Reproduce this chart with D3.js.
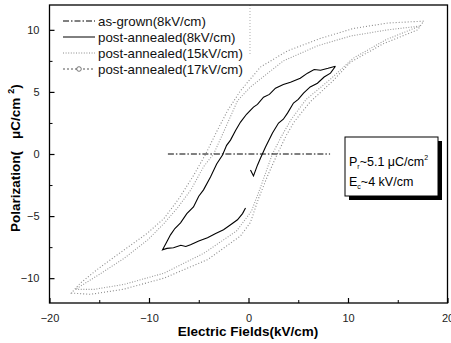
<!DOCTYPE html>
<html>
<head>
<meta charset="utf-8">
<script src="https://cdn.jsdelivr.net/npm/d3@7"></script>
<style>
  body { margin: 0; background: #fff; }
  text { font-family: "Liberation Sans", Arial, sans-serif; }
</style>
</head>
<body>
<div id="chart"></div>
<script>
const W = 451, H = 343;

// tick values
const xTicks = [-20, -10, 0, 10, 20];
const xMinor = [-15, -5, 5, 15];
const yTicks = [-10, -5, 0, 5, 10];
const yMinor = [-7.5, -2.5, 2.5, 7.5];

// series, [E (kV/cm), P (uC/cm2)]
const asGrown = [[-8.1, 0], [-4, 0], [0, 0], [4, 0], [8.2, 0]];

const post8 = [
  [8.74, 7.07], [8.0, 6.9], [7.24, 6.75], [6.6, 6.8], [5.93, 6.51], [5.2, 6.1], [4.22, 5.78], [3.5, 5.6],
  [2.71, 5.3], [2.1, 4.8], [1.51, 4.58], [0.9, 4.0], [0.5, 3.78], [-0.2, 3.2], [-0.8, 2.57], [-1.3, 1.9],
  [-1.81, 1.12], [-2.2, 0.7], [-2.61, -0.08], [-3.2, -0.8], [-3.82, -1.85], [-4.52, -2.89], [-5.0, -3.4],
  [-5.53, -4.26], [-6.2, -4.8], [-6.83, -5.54], [-7.4, -6.0], [-7.84, -6.51], [-8.3, -7.2], [-8.64, -7.71],
  [-8.2, -7.6], [-7.54, -7.55], [-6.8, -7.35], [-6.3, -7.45], [-5.83, -7.31], [-5.0, -7.0], [-4.12, -6.75],
  [-3.3, -6.4], [-2.51, -6.1], [-1.8, -5.7], [-1.11, -5.3], [-0.6, -4.8], [-0.3, -4.34],
  null,
  [0.2, -1.28], [0.5, -1.77], [0.9, -0.9], [1.21, -0.32], [1.71, 0.56], [2.41, 1.69], [3.02, 2.49],
  [3.5, 2.8], [3.92, 3.29], [4.52, 4.1], [5.0, 4.4], [5.53, 4.9], [6.2, 5.4], [6.93, 5.7], [7.6, 6.2],
  [8.24, 6.51], [8.74, 7.07]
];

const post15 = [
  [17.2, 10.3], [14, 10.0], [10.25, 9.5], [6.9, 8.7], [3.5, 7.5], [0.2, 5.4], [-1.1, 4.3], [-2.1, 2.5],
  [-3.5, 0], [-4.5, -1.0], [-5.8, -2.9], [-7.1, -4.3], [-8.5, -5.6], [-10.1, -6.9], [-12.5, -8.4],
  [-15, -9.7], [-17.4, -10.9],
  [-15.5, -10.9], [-12.5, -10.5], [-8.5, -9.6], [-4.5, -8.0], [-1.2, -6.2], [0.3, -4.6], [1.2, -2.7],
  [2.4, 0], [3.3, 1.4], [4.3, 2.8], [5.8, 4.4], [8.2, 6.0], [10.5, 7.7], [13.8, 9.2], [17.2, 10.3]
];

const post17 = [
  [17.6, 10.7], [14, 10.55], [10.5, 10.1], [7.2, 9.3], [3.9, 8.3], [1.2, 7.0], [-0.8, 5.1], [-2.1, 3.5],
  [-3.2, 1.8], [-4.3, 0], [-5.5, -1.7], [-7, -3.6], [-8.5, -5.2], [-10.2, -6.4], [-12.9, -7.95],
  [-15.2, -9.3], [-16.9, -10.4], [-17.8, -11.2],
  [-15.9, -11.3], [-12.6, -10.9], [-8.5, -10.0], [-4.1, -8.5], [-0.8, -6.6], [0.2, -5.5], [1.0, -3.6],
  [2.0, -1.6], [2.9, 0], [3.8, 1.5], [4.6, 2.6], [6.2, 4.2], [8.5, 5.9], [10.25, 7.4], [13.6, 8.9],
  [17.0, 10.0], [17.6, 10.7]
];

const legendLabels = ["as-grown(8kV/cm)", "post-annealed(8kV/cm)", "post-annealed(15kV/cm)", "post-annealed(17kV/cm)"];

const svg = d3.select("#chart").append("svg").attr("width", W).attr("height", H);

const x = d3.scaleLinear().domain([-20, 20]).range([49.5, 447.5]);
const y = d3.scaleLinear().domain([-12, 12]).range([303, 5]);

const line = d3.line()
  .defined(d => d !== null)
  .x(d => x(d[0]))
  .y(d => y(d[1]));

// faint dotted vertical at E=0 near top
svg.append("line")
  .attr("x1", x(0.15)).attr("x2", x(0.15)).attr("y1", y(12)).attr("y2", y(8))
  .attr("stroke", "#999").attr("stroke-width", 0.8).attr("stroke-dasharray", "1,2");

// loops
svg.append("path").datum(post17).attr("d", line)
  .attr("fill", "none").attr("stroke", "#8a8a8a").attr("stroke-width", 1.1)
  .attr("stroke-dasharray", "1,2");
svg.append("path").datum(post15).attr("d", line)
  .attr("fill", "none").attr("stroke", "#9a9a9a").attr("stroke-width", 1.1)
  .attr("stroke-dasharray", "1,1.6");
svg.append("path").datum(post8).attr("d", line)
  .attr("fill", "none").attr("stroke", "#000").attr("stroke-width", 1.1);
svg.append("path").datum(asGrown).attr("d", line)
  .attr("fill", "none").attr("stroke", "#000").attr("stroke-width", 1)
  .attr("stroke-dasharray", "6,2,1.5,2");

// frame
svg.append("rect")
  .attr("x", x(-20)).attr("y", y(12))
  .attr("width", x(20) - x(-20)).attr("height", y(-12) - y(12))
  .attr("fill", "none").attr("stroke", "#000").attr("stroke-width", 1.3);

// axes (ticks inward)
const xAxis = d3.axisBottom(x).tickValues(xTicks).tickSizeInner(-5).tickSizeOuter(0).tickPadding(11).tickFormat(d3.format("d"));
const gx = svg.append("g").attr("transform", `translate(0,${y(-12)})`).call(xAxis);
gx.select(".domain").remove();
gx.selectAll(".tick line").attr("stroke-width", 1.2);
gx.selectAll("text").attr("font-size", 11).attr("fill", "#222");
svg.append("g").attr("transform", `translate(0,${y(-12)})`)
  .call(d3.axisBottom(x).tickValues(xMinor).tickSize(-3).tickFormat(""))
  .select(".domain").remove();

const yAxis = d3.axisLeft(y).tickValues(yTicks).tickSizeInner(-5).tickSizeOuter(0).tickPadding(10).tickFormat(d3.format("d"));
const gy = svg.append("g").attr("transform", `translate(${x(-20)},0)`).call(yAxis);
gy.select(".domain").remove();
gy.selectAll(".tick line").attr("stroke-width", 1.2);
gy.selectAll("text").attr("font-size", 11).attr("fill", "#222");
svg.append("g").attr("transform", `translate(0,0)`)
  .attr("transform", `translate(${x(-20)},0)`)
  .call(d3.axisLeft(y).tickValues(yMinor).tickSize(-3).tickFormat(""))
  .select(".domain").remove();

// axis titles
svg.append("text")
  .attr("x", 248).attr("y", 336).attr("text-anchor", "middle")
  .attr("font-size", 13.5).attr("font-weight", "bold")
  .text("Electric Fields(kV/cm)");

const yt = svg.append("text")
  .attr("transform", "translate(20,232) rotate(-90)")
  .attr("font-size", 13.5).attr("font-weight", "bold");
yt.append("tspan").text("Polarization(");
yt.append("tspan").attr("dx", 12).text("\u03BCC/cm");
yt.append("tspan").attr("font-size", 9).attr("dx", 4).attr("dy", -6).text("2");
yt.append("tspan").attr("dy", 6).text(")");

// legend
const legend = svg.append("g");
const styles = [
  { dash: "6,2,1.5,2", color: "#000" },
  { dash: null, color: "#000" },
  { dash: "1,1.6", color: "#8a8a8a" },
  { dash: "2,2", color: "#555" }
];
legendLabels.forEach((lab, i) => {
  const ly = 21 + i * 16;
  legend.append("line")
    .attr("x1", 63).attr("x2", 95).attr("y1", ly).attr("y2", ly)
    .attr("stroke", styles[i].color).attr("stroke-width", 1)
    .attr("stroke-dasharray", styles[i].dash);
  if (i === 3) {
    legend.append("circle").attr("cx", 79).attr("cy", ly).attr("r", 2.3)
      .attr("fill", "#fff").attr("stroke", "#555").attr("stroke-width", 0.8);
  }
  legend.append("text")
    .attr("x", 98).attr("y", ly + 4.5)
    .attr("font-size", 13.3).attr("fill", "#111")
    .text(lab);
});

// annotation box
const bx = 345, by = 137, bw = 93, bh = 59;
svg.append("rect").attr("x", bx + 4).attr("y", by + 4).attr("width", bw).attr("height", bh).attr("fill", "#000");
svg.append("rect").attr("x", bx).attr("y", by).attr("width", bw).attr("height", bh)
  .attr("fill", "#fff").attr("stroke", "#000").attr("stroke-width", 1);

const t1 = svg.append("text").attr("x", bx + 4).attr("y", 166).attr("font-size", 12.5);
t1.append("tspan").text("P");
t1.append("tspan").attr("font-size", 7).attr("dy", 3).text("r");
t1.append("tspan").attr("dy", -3).text("~5.1 \u03BCC/cm");
t1.append("tspan").attr("font-size", 7).attr("dy", -6).text("2");

const t2 = svg.append("text").attr("x", bx + 4).attr("y", 186).attr("font-size", 12.5);
t2.append("tspan").text("E");
t2.append("tspan").attr("font-size", 7).attr("dy", 3).text("c");
t2.append("tspan").attr("dy", -3).text("~4 kV/cm");
</script>
</body>
</html>
